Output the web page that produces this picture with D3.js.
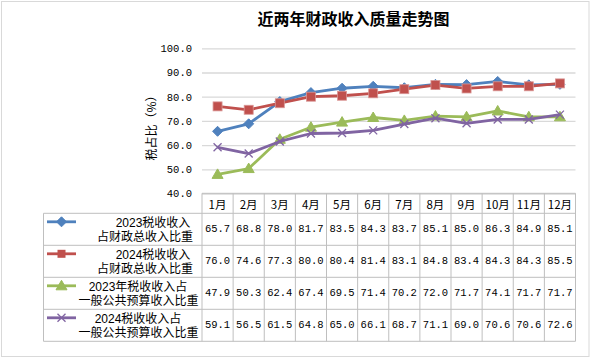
<!DOCTYPE html>
<html><head><meta charset="utf-8">
<script src="https://cdn.jsdelivr.net/npm/d3@7"></script>
<style>body{margin:0;background:#fff;}svg{display:block;}</style>
</head><body>
<script>
const months = ["1月","2月","3月","4月","5月","6月","7月","8月","9月","10月","11月","12月"];
const yTicks = [40,50,60,70,80,90,100];
const tax2023Total = [65.7,68.8,78.0,81.7,83.5,84.3,83.7,85.1,85.0,86.3,84.9,85.1];
const tax2024Total = [76.0,74.6,77.3,80.0,80.4,81.4,83.1,84.8,83.4,84.3,84.3,85.5];
const tax2023Budget = [47.9,50.3,62.4,67.4,69.5,71.4,70.2,72.0,71.7,74.1,71.7,71.7];
const tax2024Budget = [59.1,56.5,61.5,64.8,65.0,66.1,68.7,71.1,69.0,70.6,70.6,72.6];
const seriesNames = [["2023税收收入","占财政总收入比重"],["2024税收收入","占财政总收入比重"],["2023年税收收入占","一般公共预算收入比重"],["2024税收收入占","一般公共预算收入比重"]];

const series = [
  {name:seriesNames[0], values:tax2023Total, color:"#4F81BD", marker:"diamond"},
  {name:seriesNames[1], values:tax2024Total, color:"#C0504D", marker:"square"},
  {name:seriesNames[2], values:tax2023Budget, color:"#9BBB59", marker:"triangle"},
  {name:seriesNames[3], values:tax2024Budget, color:"#8064A2", marker:"x"}
];

const W=591,H=358;
const svg=d3.select("body").append("svg").attr("width",W).attr("height",H);
svg.append("rect").attr("x",0).attr("y",0).attr("width",W).attr("height",H).attr("fill","#fff");
svg.append("rect").attr("x",1.5).attr("y",1.5).attr("width",587.5).attr("height",355).attr("fill","none").attr("stroke","#d9d9d9");

const plotL=202, plotR=575.5, plotT=48.3, plotB=193.5;
const x=d3.scaleBand().domain(months).range([plotL,plotR]);
const y=d3.scaleLinear().domain([40,100]).range([plotB,plotT]);
const mono="'Liberation Mono','DejaVu Sans Mono',monospace";
const cjk="'Noto Sans CJK SC','Noto Sans',sans-serif";
const legFont="'Liberation Sans','Noto Sans CJK SC',sans-serif";

svg.append("text").attr("x",353.5).attr("y",18).attr("text-anchor","middle").attr("dominant-baseline","central")
  .attr("font-family",cjk).attr("font-weight","bold").attr("font-size",16).attr("fill","#000").text("近两年财政收入质量走势图");

const yAxis=d3.axisLeft(y).tickValues(yTicks).tickSize(-(plotR-plotL)).tickFormat(d3.format(".1f")).tickPadding(10);
const gy=svg.append("g").attr("transform",`translate(${plotL},0)`).call(yAxis);
gy.select(".domain").remove();
gy.selectAll(".tick line").attr("stroke","#d9d9d9").attr("stroke-width",1.3);
gy.selectAll(".tick text").attr("font-family",mono).attr("font-size",10.5).attr("fill","#000").attr("x",-10);

svg.append("text").attr("transform","translate(150,125) rotate(-90)").attr("text-anchor","middle").attr("dominant-baseline","central")
  .attr("font-family",cjk).attr("font-size",12).attr("fill","#000").text("税占比（%）");

const line=d3.line().x((d,i)=>x(months[i])+x.bandwidth()/2).y(d=>y(d));
series.forEach(s=>{
  svg.append("path").datum(s.values).attr("d",line).attr("fill","none").attr("stroke",s.color).attr("stroke-width",2.8).attr("stroke-linejoin","round");
  const g=svg.append("g");
  s.values.forEach((v,i)=>{
    drawMarker(g,s.marker,x(months[i])+x.bandwidth()/2,y(v),s.color);
  });
});

function drawMarker(g,type,cx,cy,color){
  if(type==="diamond"){
    g.append("path").attr("d",`M${cx},${cy-5}L${cx+5},${cy}L${cx},${cy+5}L${cx-5},${cy}Z`).attr("fill",color).attr("stroke",color);
  } else if(type==="square"){
    g.append("rect").attr("x",cx-4.5).attr("y",cy-4.5).attr("width",9).attr("height",9).attr("fill",color).attr("stroke","#d99594").attr("stroke-width",0.8);
  } else if(type==="triangle"){
    g.append("path").attr("d",`M${cx},${cy-5.5}L${cx+5.5},${cy+4}L${cx-5.5},${cy+4}Z`).attr("fill",color).attr("stroke",color);
  } else {
    g.append("path").attr("d",`M${cx-4},${cy-4}L${cx+4},${cy+4}M${cx+4},${cy-4}L${cx-4},${cy+4}`).attr("stroke",color).attr("stroke-width",1.3).attr("fill","none");
  }
}

const tableTop=193.3, headH=20, rowH=32, legL=43.5;
const tc="#bfbfbf";
const tg=svg.append("g");
tg.append("line").attr("x1",plotL).attr("x2",plotR).attr("y1",tableTop).attr("y2",tableTop).attr("stroke",tc);
tg.append("line").attr("x1",legL).attr("x2",plotR).attr("y1",tableTop+headH).attr("y2",tableTop+headH).attr("stroke",tc);
series.forEach((s,r)=>{
  const yb=tableTop+headH+rowH*(r+1);
  tg.append("line").attr("x1",legL).attr("x2",plotR).attr("y1",yb).attr("y2",yb).attr("stroke",tc);
});
const tableBottom=tableTop+headH+rowH*series.length;
tg.append("line").attr("x1",legL).attr("x2",legL).attr("y1",tableTop+headH).attr("y2",tableBottom).attr("stroke",tc);
months.forEach((m,i)=>{
  tg.append("line").attr("x1",x(m)).attr("x2",x(m)).attr("y1",tableTop).attr("y2",tableBottom).attr("stroke",tc);
});
tg.append("line").attr("x1",plotR).attr("x2",plotR).attr("y1",tableTop).attr("y2",tableBottom).attr("stroke",tc);

months.forEach(m=>{
  tg.append("text").attr("x",x(m)+x.bandwidth()/2).attr("y",tableTop+headH/2+0.5).attr("text-anchor","middle").attr("dominant-baseline","central")
    .attr("font-family",cjk).attr("font-size",11.5).attr("fill","#000").text(m);
});

const lineCenters=[[153,145],[153,145],[138,138.5],[138,138.5]];
series.forEach((s,r)=>{
  const rt=tableTop+headH+rowH*r;
  const rc=rt+rowH/2;
  tg.append("line").attr("x1",47).attr("x2",76).attr("y1",rt+8.5).attr("y2",rt+8.5).attr("stroke",s.color).attr("stroke-width",2.8);
  const ig=tg.append("g");
  if(s.marker==="square") ig.append("rect").attr("x",61.5-4).attr("y",rt+8.5-4).attr("width",8).attr("height",8).attr("fill",s.color);
  else drawMarker(ig,s.marker,61.5,rt+8.5,s.color);
  s.name.forEach((ln,k)=>{
    tg.append("text").attr("x",lineCenters[r][k]).attr("y",rc+(k===0?-2.5:11.5)).attr("text-anchor","middle")
      .attr("font-family",legFont).attr("font-size",12).attr("fill","#000").text(ln);
  });
  s.values.forEach((v,i)=>{
    tg.append("text").attr("x",x(months[i])+x.bandwidth()/2).attr("y",rc).attr("text-anchor","middle").attr("dominant-baseline","central")
      .attr("font-family",mono).attr("font-size",10.5).attr("fill","#000").text(v.toFixed(1));
  });
});
</script>
</body></html>
